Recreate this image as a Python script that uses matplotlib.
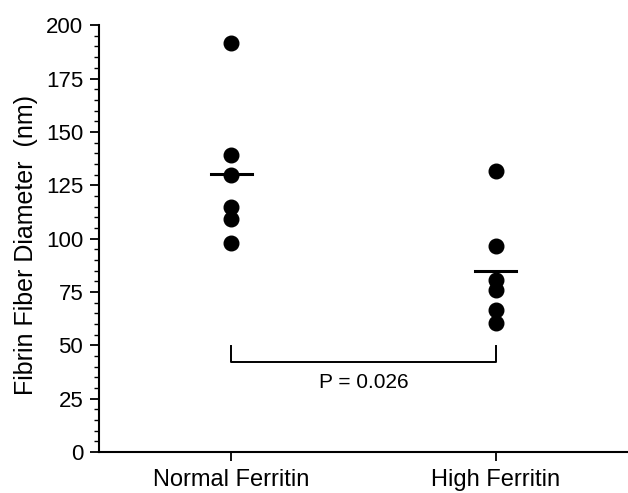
import matplotlib
matplotlib.use("Agg")
import matplotlib.pyplot as plt
from matplotlib.ticker import MultipleLocator
import numpy as np

plt.rcParams['font.family'] = ['Liberation Sans', 'DejaVu Sans']

categories = ["Normal Ferritin", "High Ferritin"]
normal_vals = [191.5, 139, 130, 115, 109, 98]
high_vals = [131.5, 96.5, 80.5, 76, 66.5, 60.5]
means = [130.2, 84.8]
p_text = "P = 0.026"

fig = plt.figure(figsize=(6.28, 4.93), dpi=100)
ax = fig.add_axes([0.158, 0.083, 0.842, 0.866])

for i, vals in enumerate([normal_vals, high_vals]):
    ax.plot([i] * len(vals), vals, 'o', color='black', markersize=10.5, zorder=3)
    ax.plot([i - 0.077, i + 0.077], [means[i], means[i]], color='black', lw=2.2, zorder=4)

# significance bracket
ax.plot([0, 0, 1, 1], [49.5, 42, 42, 49.5], color='black', lw=1.4)
ax.text(0.5, 32.8, p_text, ha='center', va='center', fontsize=15)

ax.set_xlim(-0.5, 1.5)
ax.set_ylim(0, 200)
ax.set_xticks([0, 1])
ax.set_xticklabels(categories, fontsize=17)
ax.yaxis.set_major_locator(MultipleLocator(25))
ax.yaxis.set_minor_locator(MultipleLocator(5))
ax.tick_params(axis='y', which='major', length=6.5, width=1.3, labelsize=16, pad=5)
ax.tick_params(axis='y', which='minor', length=3.6, width=1)
ax.tick_params(axis='x', length=6.5, width=1.3, pad=5.5)
ax.set_ylabel("Fibrin Fiber Diameter  (nm)", fontsize=18)
ax.yaxis.set_label_coords(-0.115, 0.485)

for s in ['top', 'right']:
    ax.spines[s].set_visible(False)
for s in ['left', 'bottom']:
    ax.spines[s].set_linewidth(1.5)

fig.savefig("out.png", dpi=100)
